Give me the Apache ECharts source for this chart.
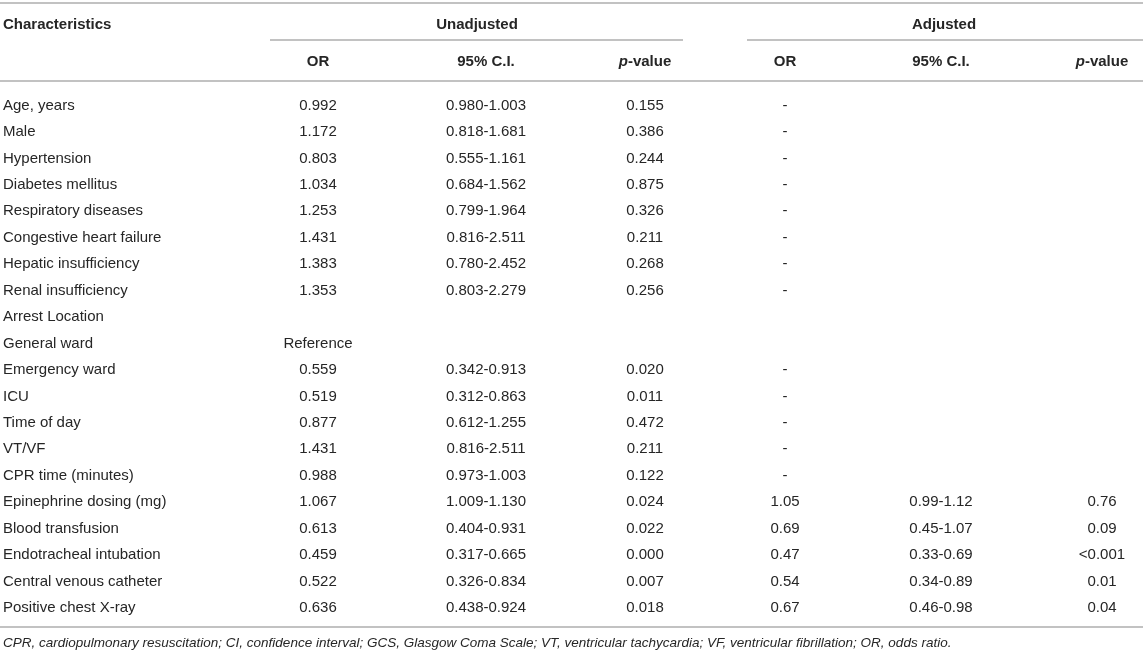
<!DOCTYPE html>
<html>
<head>
<meta charset="utf-8">
<title>Logistic regression table</title>
<script src="https://cdn.jsdelivr.net/npm/echarts@6/dist/echarts.min.js"></script>
<style>
  html, body { margin: 0; padding: 0; background: #fff; }
  #main { width: 1143px; height: 654px; }
</style>
</head>
<body>
<div id="main"></div>
<script>
// table content
const rows = [
  'Age, years', 'Male', 'Hypertension', 'Diabetes mellitus', 'Respiratory diseases',
  'Congestive heart failure', 'Hepatic insufficiency', 'Renal insufficiency',
  'Arrest Location', 'General ward', 'Emergency ward', 'ICU', 'Time of day', 'VT/VF',
  'CPR time (minutes)', 'Epinephrine dosing (mg)', 'Blood transfusion',
  'Endotracheal intubation', 'Central venous catheter', 'Positive chest X-ray'
];
const orUnadj = ['0.992', '1.172', '0.803', '1.034', '1.253', '1.431', '1.383', '1.353', '',
  'Reference', '0.559', '0.519', '0.877', '1.431', '0.988', '1.067', '0.613', '0.459', '0.522', '0.636'];
const ciUnadj = ['0.980-1.003', '0.818-1.681', '0.555-1.161', '0.684-1.562', '0.799-1.964',
  '0.816-2.511', '0.780-2.452', '0.803-2.279', '', '', '0.342-0.913', '0.312-0.863',
  '0.612-1.255', '0.816-2.511', '0.973-1.003', '1.009-1.130', '0.404-0.931', '0.317-0.665',
  '0.326-0.834', '0.438-0.924'];
const pUnadj = ['0.155', '0.386', '0.244', '0.875', '0.326', '0.211', '0.268', '0.256', '', '',
  '0.020', '0.011', '0.472', '0.211', '0.122', '0.024', '0.022', '0.000', '0.007', '0.018'];
const orAdj = ['-', '-', '-', '-', '-', '-', '-', '-', '', '', '-', '-', '-', '-', '-',
  '1.05', '0.69', '0.47', '0.54', '0.67'];
const ciAdj = ['', '', '', '', '', '', '', '', '', '', '', '', '', '', '',
  '0.99-1.12', '0.45-1.07', '0.33-0.69', '0.34-0.89', '0.46-0.98'];
const pAdj = ['', '', '', '', '', '', '', '', '', '', '', '', '', '', '',
  '0.76', '0.09', '<0.001', '0.01', '0.04'];

const footnote = 'CPR, cardiopulmonary resuscitation; CI, confidence interval; GCS, Glasgow Coma Scale; ' +
  'VT, ventricular tachycardia; VF, ventricular fibrillation; OR, odds ratio.';

const FONT = '"Liberation Sans", Arial, Helvetica, sans-serif';
const INK = '#262626';
const RULE = '#c2c2c2';

// one custom series per column
function column(name, texts, x, align) {
  return {
    name: name,
    type: 'custom',
    silent: true,
    data: texts.map((t, i) => [x, i]),
    renderItem: function (params, api) {
      const t = texts[params.dataIndex];
      if (!t) return null;
      const p = api.coord([api.value(0), api.value(1)]);
      return {
        type: 'text',
        x: p[0],
        y: p[1],
        style: {
          text: t,
          fill: INK,
          font: '15px ' + FONT,
          align: align,
          verticalAlign: 'middle'
        }
      };
    }
  };
}

function hline(x1, x2, y) {
  return { type: 'line', shape: { x1: x1, y1: y, x2: x2, y2: y },
    style: { stroke: RULE, lineWidth: 2 }, silent: true };
}

function head(text, x, y, align) {
  return { type: 'text', x: x, y: y, silent: true,
    style: { text: text, fill: INK, font: 'bold 15px ' + FONT,
      align: align || 'center', verticalAlign: 'middle',
      rich: { i: { fontStyle: 'italic', fontWeight: 'bold', fontSize: 15, fontFamily: FONT, fill: INK },
              n: { fontWeight: 'bold', fontSize: 15, fontFamily: FONT, fill: INK } } } };
}

const chart = echarts.init(document.getElementById('main'), null, { renderer: 'canvas' });

chart.setOption({
  animation: false,
  backgroundColor: '#fff',
  grid: { left: 0, right: 0, top: 92.3, bottom: 32.8 },
  xAxis: { type: 'value', min: 0, max: 1143, show: false },
  yAxis: { type: 'category', data: rows, inverse: true, show: false },
  series: [
    column('Characteristics', rows, 3, 'left'),
    column('OR', orUnadj, 318, 'center'),
    column('CI', ciUnadj, 486, 'center'),
    column('p', pUnadj, 645, 'center'),
    column('OR adj', orAdj, 785, 'center'),
    column('CI adj', ciAdj, 941, 'center'),
    column('p adj', pAdj, 1102, 'center')
  ],
  graphic: [
    hline(0, 1143, 3),
    hline(270, 683, 40),
    hline(747, 1143, 40),
    hline(0, 1143, 81),
    hline(0, 1143, 627),
    head('Characteristics', 3, 25, 'left'),
    head('Unadjusted', 477, 25),
    head('Adjusted', 944, 25),
    head('OR', 318, 61.5),
    head('95% C.I.', 486, 61.5),
    head('{i|p}{n|-value}', 645, 61.5),
    head('OR', 785, 61.5),
    head('95% C.I.', 941, 61.5),
    head('{i|p}{n|-value}', 1102, 61.5),
    { type: 'text', x: 3, y: 643, silent: true,
      style: { text: footnote, fill: INK, font: 'italic 13.5px ' + FONT,
        align: 'left', verticalAlign: 'middle' } }
  ]
});
</script>
</body>
</html>
